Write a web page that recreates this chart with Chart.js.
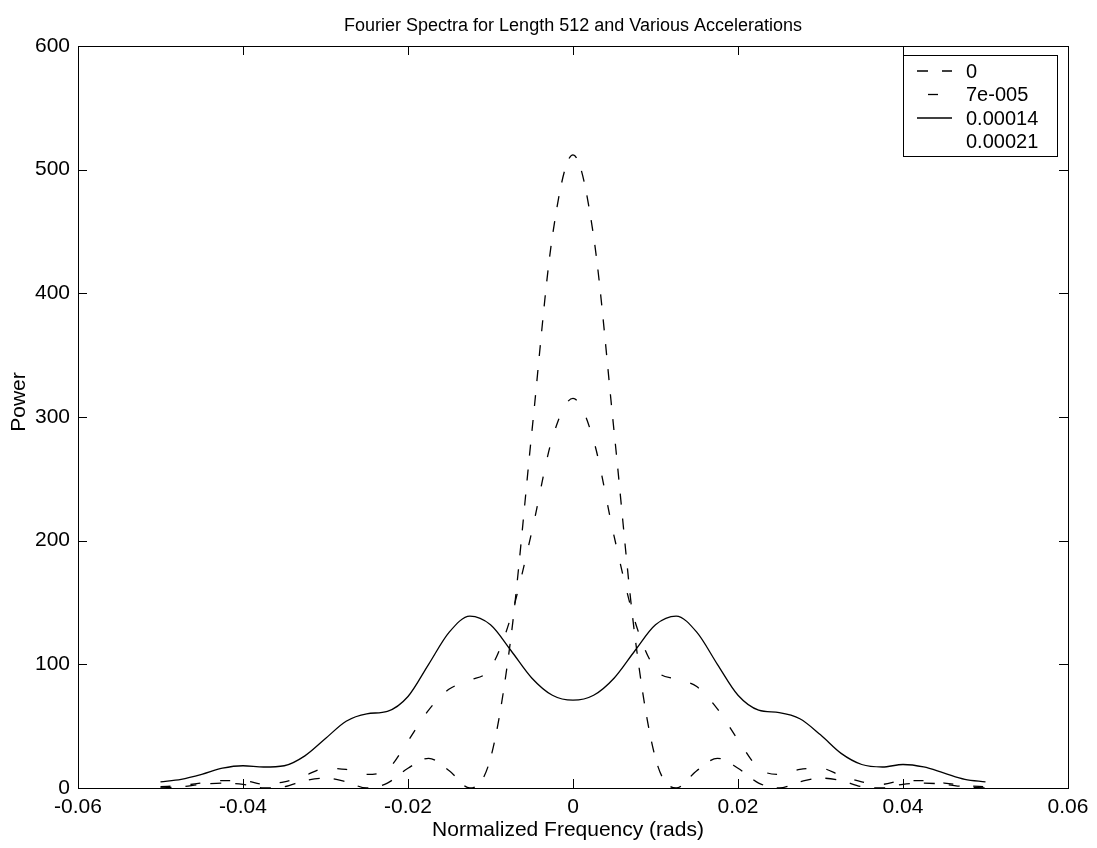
<!DOCTYPE html>
<html>
<head>
<meta charset="utf-8">
<script src="https://cdn.jsdelivr.net/npm/chart.js@4/dist/chart.umd.min.js"></script>
<style>
  body { margin: 0; background: #fff; }
  #wrap { width: 1097px; height: 848px; }
</style>
</head>
<body>
<div id="wrap"><canvas id="chart" width="1097" height="848"></canvas></div>
<script>
// Frequencies (rads), shared by all curves
const freqs = [
  -0.05, -0.0475, -0.045, -0.0425, -0.04, -0.0375, -0.035, -0.0325, -0.03, -0.0275,
  -0.025, -0.0225, -0.02, -0.0175, -0.015, -0.0125, -0.01, -0.0075, -0.005, -0.0025,
  0,
  0.0025, 0.005, 0.0075, 0.01, 0.0125, 0.015, 0.0175, 0.02, 0.0225, 0.025,
  0.0275, 0.03, 0.0325, 0.035, 0.0375, 0.04, 0.0425, 0.045, 0.0475, 0.05
];

// Power for each acceleration
const power0 = [
  0, 1, 3, 4, 3, 0, 1, 6, 8, 5,
  0, 4, 16, 24, 14, 0, 24, 123, 287, 446,
  512,
  446, 287, 123, 24, 0, 14, 24, 16, 4, 0,
  5, 8, 6, 1, 0, 3, 4, 3, 1, 0
];
const power7e5 = [
  1, 2, 4, 6, 6, 3, 5, 10, 16, 15,
  11, 15, 38, 63, 80, 87, 97, 139, 207, 283,
  315,
  281, 203, 135, 96, 88, 82, 64, 39, 16, 11,
  15, 16, 10, 5, 3, 6, 6, 4, 2, 1
];
const power14e5 = [
  5, 7, 11, 16, 18, 17, 18, 26, 40, 54,
  60, 62, 74, 100, 126, 139, 132, 111, 89, 75,
  71,
  75, 89, 111, 132, 139, 126, 100, 75, 63, 61,
  56, 43, 28, 19, 17, 19, 17, 12, 7, 5
];

const seriesLabels = ['0', '7e-005', '0.00014', '0.00021'];
const xTickLabels = ['-0.06', '-0.04', '-0.02', '0', '0.02', '0.04', '0.06'];
const yTickLabels = ['0', '100', '200', '300', '400', '500', '600'];

const toPoints = arr => arr.map((v, i) => ({ x: freqs[i], y: v }));

const FONT = 'Liberation Sans, Arial, sans-serif';

// box, inward ticks, title, axis titles and legend
const matlabLook = {
  id: 'matlabLook',
  afterDraw(chart) {
    const { ctx, chartArea: a, scales } = chart;
    ctx.save();
    ctx.strokeStyle = '#000';
    ctx.lineWidth = 1;
    ctx.setLineDash([]);
    ctx.strokeRect(a.left + 0.5, a.top + 0.5, a.right - a.left, a.bottom - a.top);

    const tl = 9;
    ctx.beginPath();
    scales.x.ticks.forEach(t => {
      const px = Math.round(scales.x.getPixelForValue(t.value)) + 0.5;
      ctx.moveTo(px, a.bottom); ctx.lineTo(px, a.bottom - tl);
      ctx.moveTo(px, a.top); ctx.lineTo(px, a.top + tl);
    });
    scales.y.ticks.forEach(t => {
      const py = Math.round(scales.y.getPixelForValue(t.value)) + 0.5;
      ctx.moveTo(a.left, py); ctx.lineTo(a.left + tl, py);
      ctx.moveTo(a.right, py); ctx.lineTo(a.right - tl, py);
    });
    ctx.stroke();

    // title
    ctx.fillStyle = '#000';
    ctx.textAlign = 'center';
    ctx.textBaseline = 'middle';
    ctx.font = '18px ' + FONT;
    ctx.fillText('Fourier Spectra for Length 512 and Various Accelerations', (a.left + a.right) / 2, 26);

    // axis titles
    ctx.font = '21px ' + FONT;
    ctx.fillText('Normalized Frequency (rads)', (a.left + a.right) / 2 - 5, 830);
    ctx.save();
    ctx.translate(19, 402);
    ctx.rotate(-Math.PI / 2);
    ctx.fillText('Power', 0, 0);
    ctx.restore();

    // legend
    const bw = 154, bh = 101;
    const bx = a.right - 11 - bw, by = a.top + 9;
    ctx.fillStyle = '#fff';
    ctx.fillRect(bx, by, bw, bh);
    ctx.strokeStyle = '#000';
    ctx.lineWidth = 1;
    ctx.strokeRect(bx + 0.5, by + 0.5, bw, bh);
    ctx.font = '20px ' + FONT;
    ctx.textAlign = 'left';
    chart.data.datasets.forEach((ds, i) => {
      const y = by + 16 + i * 23.5;
      ctx.beginPath();
      ctx.strokeStyle = ds.borderColor;
      ctx.lineWidth = ds.borderWidth;
      ctx.setLineDash(ds.borderDash || []);
      ctx.lineDashOffset = ds.legendDashOffset || 0;
      ctx.moveTo(bx + 14, y);
      ctx.lineTo(bx + 49, y);
      ctx.stroke();
      ctx.setLineDash([]);
      ctx.fillStyle = '#000';
      ctx.fillText(ds.label, bx + 63, y + 1);
    });
    ctx.restore();
  }
};

new Chart(document.getElementById('chart'), {
  type: 'line',
  data: {
    datasets: [
      {
        label: seriesLabels[0],
        data: toPoints(power0),
        borderColor: '#000',
        borderWidth: 1.3,
        borderDash: [11, 14]
      },
      {
        label: seriesLabels[1],
        data: toPoints(power7e5),
        borderColor: '#000',
        borderWidth: 1.3,
        borderDash: [10, 20],
        legendDashOffset: 19
      },
      {
        label: seriesLabels[2],
        data: toPoints(power14e5),
        borderColor: '#000',
        borderWidth: 1.3
      },
      {
        // dotted curve, lost in the scan
        label: seriesLabels[3],
        data: [],
        borderColor: 'rgba(0,0,0,0)',
        borderWidth: 1
      }
    ]
  },
  options: {
    responsive: false,
    animation: false,
    cubicInterpolationMode: 'monotone',
    elements: { point: { radius: 0 }, line: { cubicInterpolationMode: 'monotone' } },
    layout: { padding: { top: 46, right: 29, left: 0, bottom: 0 } },
    plugins: {
      legend: { display: false },
      tooltip: { enabled: false }
    },
    scales: {
      x: {
        type: 'linear',
        min: -0.06,
        max: 0.06,
        grid: { display: false, drawTicks: false, tickLength: 0 },
        border: { display: false },
        ticks: {
          stepSize: 0.02,
          padding: 7,
          color: '#000',
          font: { family: FONT, size: 21 },
          maxRotation: 0,
          callback: (v, i) => xTickLabels[i]
        },
        afterFit: s => { s.height = 60; }
      },
      y: {
        min: 0,
        max: 600,
        grid: { display: false, drawTicks: false, tickLength: 0 },
        border: { display: false },
        ticks: {
          stepSize: 100,
          padding: 8,
          color: '#000',
          font: { family: FONT, size: 21 },
          callback: (v, i) => yTickLabels[i]
        },
        afterFit: s => { s.width = 78; }
      }
    }
  },
  plugins: [matlabLook]
});
</script>
</body>
</html>
